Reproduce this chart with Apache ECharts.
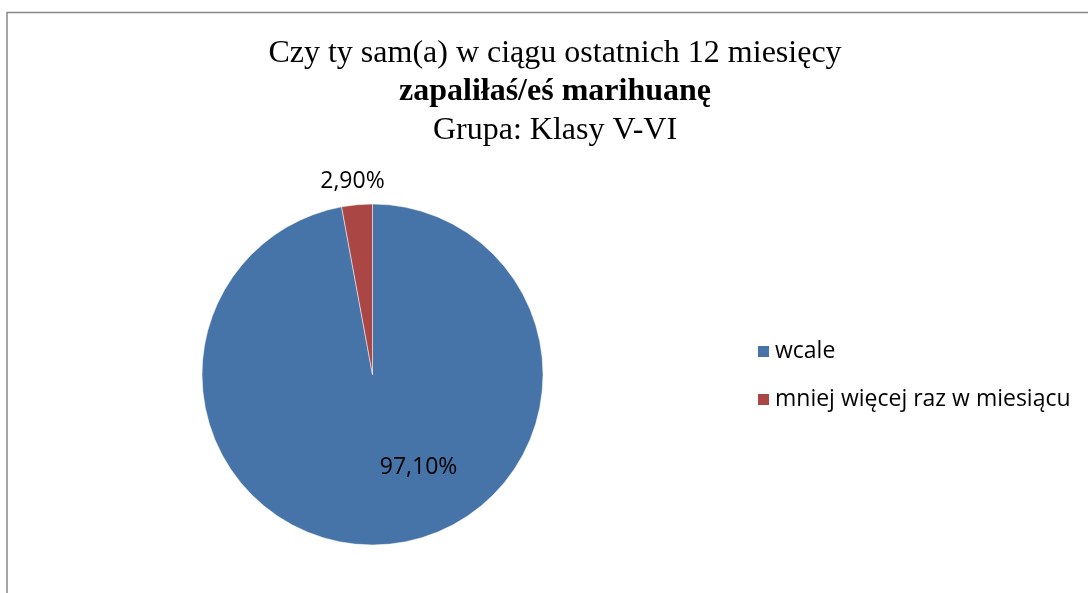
<!DOCTYPE html>
<html><head><meta charset="utf-8">
<script src="https://cdn.jsdelivr.net/npm/echarts@6/dist/echarts.min.js"></script>
<style>html,body{margin:0;padding:0;background:#fff}#c{width:1088px;height:593px}</style>
</head><body><div id="c"></div>
<script>
const categories = ['wcale', 'mniej więcej raz w miesiącu'];
const values = [97.1, 2.9];
const labels = ['97,10%', '2,90%'];
const colors = ['#4674A8', '#AA4644'];
const titleLines = ['Czy ty sam(a) w ciągu ostatnich 12 miesięcy', 'zapaliłaś/eś marihuanę', 'Grupa: Klasy V-VI'];

const chart = echarts.init(document.getElementById('c'));
const labelOffsets = [[38, 5], [-12, -105]];
chart.setOption({
  animation: false,
  graphic: [{
    type: 'rect', shape: {x: 7, y: 12.5, width: 1200, height: 700},
    style: {fill: 'none', stroke: '#888', lineWidth: 1.5}
  }],
  title: {
    text: '{a|' + titleLines[0] + '}\n{b|' + titleLines[1] + '}\n{a|' + titleLines[2] + '}',
    left: 550, top: 29, textAlign: 'center',
    textStyle: {
      fontWeight: 'normal',
      rich: {
        a: {fontFamily: 'Liberation Serif', fontSize: 32, fontWeight: 'normal', color: '#000', lineHeight: 38.5},
        b: {fontFamily: 'Liberation Serif', fontSize: 32, fontWeight: 'bold', color: '#000', lineHeight: 38.5}
      }
    }
  },
  legend: {
    orient: 'vertical', left: 751, top: 335, itemWidth: 13, itemHeight: 13, itemGap: 25,
    icon: 'rect',
    textStyle: {fontFamily: 'Open Sans', fontSize: 23, color: '#000'},
    data: categories
  },
  series: [{
    type: 'pie', center: [372.5, 374.5], radius: 170.5, startAngle: 90, clockwise: true,
    itemStyle: {borderColor: '#fff', borderWidth: 0.5},
    labelLine: {show: false},
    data: categories.map((c, i) => ({
      name: c, value: values[i], itemStyle: {color: colors[i]},
      label: {show: true, position: 'inside', formatter: labels[i], offset: labelOffsets[i],
        fontFamily: 'Open Sans', fontSize: 23, color: '#000'}
    }))
  }]
});
</script></body></html>
